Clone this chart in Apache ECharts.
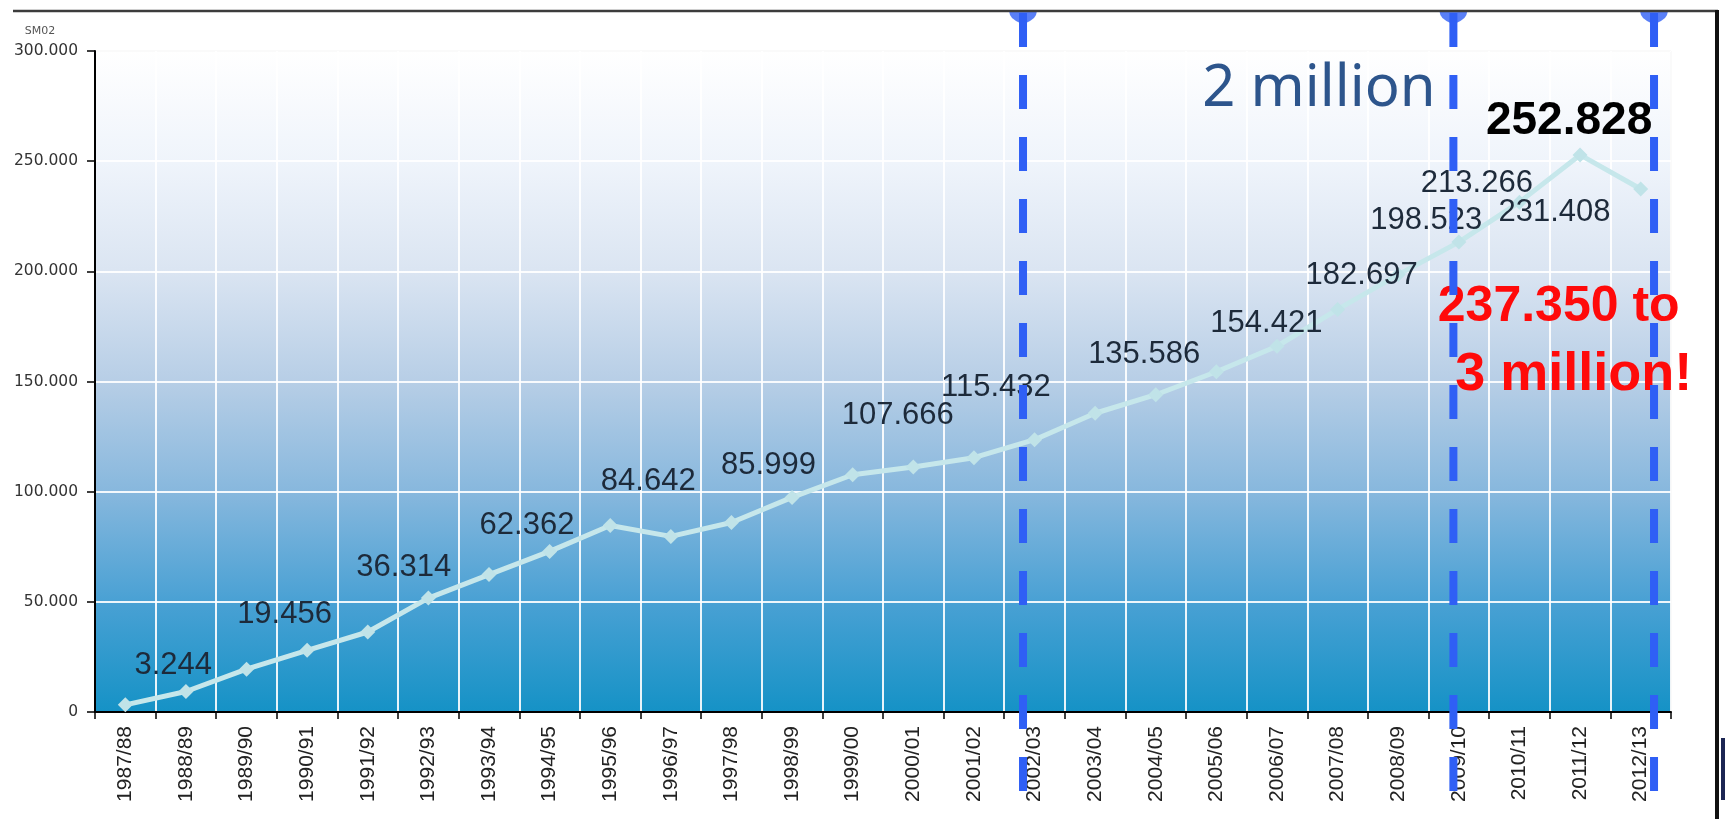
<!DOCTYPE html>
<html>
<head>
<meta charset="utf-8">
<script src="https://cdn.jsdelivr.net/npm/echarts@6/dist/echarts.min.js"></script>
<style>
html,body{margin:0;padding:0;background:#ffffff;}
#chart{width:1725px;height:819px;}
</style>
</head>
<body>
<div id="chart"></div>
<script>
// ---- data ----
const categories = ['1987/88','1988/89','1989/90','1990/91','1991/92','1992/93','1993/94','1994/95','1995/96','1996/97','1997/98','1998/99','1999/00','2000/01','2001/02','2002/03','2003/04','2004/05','2005/06','2006/07','2007/08','2008/09','2009/10','2010/11','2011/12','2012/13'];
const students = [3244, 9300, 19456, 28000, 36314, 51700, 62362, 72900, 84642, 79700, 85999, 97400, 107666, 111200, 115432, 123600, 135586, 144000, 154421, 166000, 182697, 198523, 213266, 231408, 252828, 237350];
const yTicks = [0, 50000, 100000, 150000, 200000, 250000, 300000];
// milestone markers, in category units along the x axis
const milestonePositions = [15.31, 22.41, 25.72];
const peakIndex = 24;
const lastIndex = 25;
const lastNoteLine1 = 'to';
const lastNoteLine2 = '3 million!';
const milestoneText = '2 million';
const unitText = 'SM02';

// ---- label placement (styling) ----
const labelOffsets = {
  0: [48, -39], 2: [38, -55], 4: [36, -65], 6: [38, -49], 8: [38, -44],
  10: [37, -57], 12: [45, -59], 14: [22, -70], 16: [49, -59], 18: [50, -48],
  20: [24, -34], 21: [28, -54], 22: [18, -59], 23: [35, 10], 24: [-11, -34],
  25: [-82, 152]
};

function fmt(v) {
  return String(v).replace(/\B(?=(\d{3})+(?!\d))/g, '.');
}

const seriesData = students.map((v, i) => {
  const item = { value: v };
  if (labelOffsets[i]) {
    item.label = { show: true, offset: labelOffsets[i] };
    if (i === peakIndex) {
      Object.assign(item.label, { fontWeight: 'bold', fontSize: 46, color: '#000000' });
    }
    if (i === lastIndex) {
      Object.assign(item.label, {
        formatter: '{a|' + fmt(v) + ' ' + lastNoteLine1 + '}\n{b|' + lastNoteLine2 + '}',
        rich: {
          a: { fontWeight: 'bold', fontSize: 50, lineHeight: 68, color: '#ff0a0a', fontFamily: 'Liberation Sans, Arial, sans-serif' },
          b: { fontWeight: 'bold', fontSize: 54, lineHeight: 68, color: '#ff0a0a', fontFamily: 'Liberation Sans, Arial, sans-serif', padding: [0, 0, 0, 30] }
        }
      });
    }
  }
  return item;
});

const BLUE = '#2f5ff5';
const milestoneSeries = milestonePositions.map(x => ({
  type: 'line', xAxisIndex: 1, yAxisIndex: 1,
  data: [[x, 1], [x, 0]],
  symbol: 'none', clip: false, silent: true, z: 6,
  lineStyle: { color: BLUE, width: 8, type: [34, 28], cap: 'butt' }
}));

const chart = echarts.init(document.getElementById('chart'), null, { renderer: 'canvas' });
chart.setOption({
  animation: false,
  backgroundColor: '#ffffff',
  textStyle: { fontFamily: 'Liberation Sans, Arial, sans-serif' },
  grid: [
    {
      left: 95, right: 54, top: 51, bottom: 107,
      show: true, borderColor: '#8c8c8c', borderWidth: 1,
      backgroundColor: {
        type: 'linear', x: 0, y: 0, x2: 0, y2: 1,
        colorStops: [
          { offset: 0, color: '#ffffff' },
          { offset: 0.17, color: '#eff4fb' },
          { offset: 0.33, color: '#dbe5f2' },
          { offset: 0.5, color: '#b7cee6' },
          { offset: 0.67, color: '#86b7dd' },
          { offset: 0.83, color: '#4aa1d4' },
          { offset: 1, color: '#1592c6' }
        ]
      }
    },
    { left: 95, right: 54, top: 13, bottom: 28 }
  ],
  xAxis: [
    {
      type: 'category', gridIndex: 0, data: categories, boundaryGap: true,
      axisLine: { show: true, lineStyle: { color: '#000000', width: 2 } },
      axisTick: { show: true, length: 7, lineStyle: { color: '#000000', width: 1.5 } },
      splitLine: { show: true, lineStyle: { color: '#ffffff', width: 2, opacity: 0.9 } },
      axisLabel: {
        interval: 0, rotate: 90, margin: 14, fontSize: 21, color: '#222222',
        fontFamily: 'Liberation Sans, Arial, sans-serif'
      }
    },
    { type: 'value', gridIndex: 1, min: 0, max: categories.length, show: false }
  ],
  yAxis: [
    {
      type: 'value', gridIndex: 0, min: yTicks[0], max: yTicks[yTicks.length - 1],
      interval: yTicks[1] - yTicks[0],
      axisLine: { show: true, lineStyle: { color: '#000000', width: 2 } },
      axisTick: { show: true, length: 8, lineStyle: { color: '#000000', width: 1.5 } },
      splitLine: { show: true, lineStyle: { color: '#ffffff', width: 2, opacity: 0.9 } },
      axisLabel: {
        margin: 17, fontSize: 15.5, color: '#333333', fontFamily: 'DejaVu Sans',
        formatter: v => fmt(v)
      }
    },
    { type: 'value', gridIndex: 1, min: 0, max: 1, show: false }
  ],
  series: [
    {
      type: 'line', xAxisIndex: 0, yAxisIndex: 0, z: 3,
      data: seriesData,
      symbol: 'diamond', symbolSize: 15, showAllSymbol: true,
      lineStyle: { color: '#c6e7eb', width: 5 },
      itemStyle: { color: '#c0e3e8' },
      label: {
        show: false, position: 'inside', fontSize: 31, color: '#1d2a3a',
        fontFamily: 'Liberation Sans, Arial, sans-serif',
        formatter: p => fmt(p.value)
      }
    },
    ...milestoneSeries,
    {
      type: 'scatter', xAxisIndex: 1, yAxisIndex: 1, z: 7, clip: false, silent: true,
      data: milestonePositions.map(x => [x, 1]),
      symbol: 'path://M0,0 L28,0 L27,4 L25,7 L21,10 L17,12 L11,12 L7,10 L3,7 L1,4 Z',
      symbolSize: [28, 12], symbolOffset: [0, 4],
      itemStyle: { color: BLUE }
    }
  ],
  graphic: [
    { type: 'text', x: 1319, y: 89, z: 20,
      style: { text: milestoneText, fill: '#2d558c', fontSize: 58, fontFamily: 'Noto Sans', align: 'center', verticalAlign: 'middle' } },
    { type: 'text', x: 40, y: 31, z: 20,
      style: { text: unitText, fill: '#555555', fontSize: 11, fontFamily: 'DejaVu Sans', align: 'center', verticalAlign: 'middle' } },
    { type: 'line', z: 30, shape: { x1: 13, y1: 11, x2: 1718, y2: 11 }, style: { stroke: '#3c3c3c', lineWidth: 2.5 } },
    { type: 'line', z: 30, shape: { x1: 1717, y1: 10, x2: 1717, y2: 819 }, style: { stroke: '#111111', lineWidth: 4 } },
    { type: 'rect', z: 30, shape: { x: 1721, y: 738, width: 4, height: 62 }, style: { fill: '#1c2553' } }
  ]
});
</script>
</body>
</html>
